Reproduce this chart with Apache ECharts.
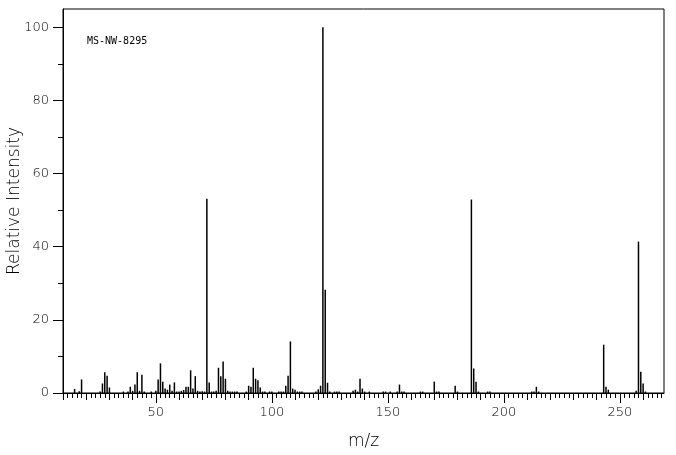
<!DOCTYPE html>
<html>
<head>
<meta charset="utf-8">
<script src="https://cdn.jsdelivr.net/npm/echarts@6/dist/echarts.min.js"></script>
<style>
  html, body { margin: 0; padding: 0; background: #fff; }
  #chart { width: 676px; height: 455px; }
</style>
</head>
<body>
<div id="chart"></div>
<script>
  // peak positions (m/z) and relative intensities (%)
  const mz = [15, 17, 18, 26, 27, 28, 29, 30, 36, 38, 39, 40, 41, 42, 43, 44, 45, 48, 50, 51,
    52, 53, 54, 55, 56, 57, 58, 59, 60, 61, 62, 63, 64, 65, 66, 67, 68, 69, 70, 71,
    72, 73, 74, 75, 76, 77, 78, 79, 80, 81, 82, 83, 84, 85, 89, 90, 91, 92, 93, 94,
    95, 96, 97, 99, 100, 103, 104, 105, 106, 107, 108, 109, 110, 111, 112, 113, 119, 120, 121, 122,
    123, 124, 125, 127, 128, 129, 135, 136, 137, 138, 139, 140, 142, 148, 149, 151, 154, 155, 156, 157,
    164, 165, 170, 171, 172, 179, 180, 186, 187, 188, 189, 193, 194, 212, 213, 214, 215, 243, 244, 245,
    257, 258, 259, 260, 261];
  const intensity = [1.1, 0.5, 3.7, 0.4, 2.6, 5.7, 4.7, 1.5, 0.4, 0.4, 1.7, 0.6, 2.3, 5.7, 0.6, 5.0, 0.4, 0.4, 0.6, 3.7,
    8.1, 3.1, 1.2, 0.9, 2.3, 0.6, 2.9, 0.4, 0.4, 0.6, 0.8, 1.7, 1.7, 6.2, 1.2, 4.6, 0.6, 0.4, 0.5, 0.4,
    53.1, 2.9, 0.4, 0.4, 0.6, 6.9, 4.6, 8.6, 3.9, 0.6, 0.4, 0.4, 0.4, 0.4, 0.4, 2.0, 1.7, 6.9, 3.9, 3.5,
    1.5, 0.4, 0.4, 0.4, 0.4, 0.4, 0.4, 0.4, 2.0, 4.7, 14.1, 1.2, 0.9, 0.4, 0.4, 0.4, 0.4, 1.0, 2.0, 100,
    28.2, 2.8, 0.4, 0.4, 0.4, 0.4, 0.6, 0.9, 0.4, 3.9, 1.2, 0.4, 0.4, 0.4, 0.4, 0.4, 0.4, 2.3, 0.4, 0.4,
    0.4, 0.4, 3.1, 0.4, 0.4, 2.0, 0.4, 52.9, 6.7, 3.1, 0.4, 0.4, 0.4, 0.4, 0.4, 1.7, 0.4, 13.2, 1.7, 0.9,
    0.6, 41.4, 5.8, 2.6, 0.4];

  const xLabels = [50, 100, 150, 200, 250];
  const yLabels = [0, 20, 40, 60, 80, 100];
  const yMinorTicks = [10, 30, 50, 70, 90];
  const xMin = 10, xMax = 269;

  const xMidTicks = [];
  for (let v = 10; v <= 260; v += 10) xMidTicks.push(v);
  const xSmallTicks = [];
  for (let v = 10; v <= 268; v += 2) xSmallTicks.push(v);

  const font = 'DejaVu Sans';
  const peaks = mz.map((m, i) => [m, intensity[i]]);

  const chart = echarts.init(document.getElementById('chart'), null, { renderer: 'canvas' });

  const baseX = {
    type: 'value', min: xMin, max: xMax, position: 'bottom',
    splitLine: { show: false },
    axisLine: { show: false },
    axisLabel: { show: false },
    axisTick: { show: false }
  };

  chart.setOption({
    animation: false,
    backgroundColor: '#fff',
    grid: {
      left: 63, right: 12, top: 9, bottom: 62,
      containLabel: false, outerBoundsMode: 'none',
      show: true, borderColor: '#000', borderWidth: 1
    },
    graphic: [{
      type: 'text', left: 87, top: 36,
      style: { text: 'MS-NW-8295', font: '10px "DejaVu Sans Mono"', fill: '#000' }
    }],
    xAxis: [
      Object.assign({}, baseX, {
        axisLine: { show: true, lineStyle: { color: '#000', width: 1 } },
        axisTick: { show: true, length: 10, customValues: xLabels, lineStyle: { color: '#000' } },
        axisLabel: {
          show: true, customValues: xLabels, margin: 13,
          fontFamily: font, fontWeight: 200, fontSize: 13, color: '#000'
        },
        name: 'm/z', nameLocation: 'middle', nameGap: 40, nameMoveOverlap: false,
        nameTextStyle: { fontFamily: font, fontWeight: 200, fontSize: 17, color: '#000' }
      }),
      Object.assign({}, baseX, {
        axisTick: { show: true, length: 7, customValues: xMidTicks, lineStyle: { color: '#000' } }
      }),
      Object.assign({}, baseX, {
        axisTick: { show: true, length: 5, customValues: xSmallTicks, lineStyle: { color: '#000' } }
      })
    ],
    yAxis: [
      {
        type: 'value', min: 0, max: 105,
        splitLine: { show: false },
        axisLine: { show: true, lineStyle: { color: '#000', width: 1 } },
        axisTick: { show: true, length: 10, customValues: yLabels, lineStyle: { color: '#000' } },
        axisLabel: {
          customValues: yLabels, margin: 14,
          fontFamily: font, fontWeight: 200, fontSize: 13, color: '#000'
        },
        name: 'Relative Intensity', nameLocation: 'middle', nameGap: 40, nameMoveOverlap: false,
        nameTextStyle: { fontFamily: font, fontWeight: 200, fontSize: 17, color: '#000' }
      },
      {
        type: 'value', min: 0, max: 105, position: 'left',
        splitLine: { show: false },
        axisLine: { show: false },
        axisLabel: { show: false },
        axisTick: { show: true, length: 5, customValues: yMinorTicks, lineStyle: { color: '#000' } }
      }
    ],
    series: [{
      type: 'bar',
      xAxisIndex: 0, yAxisIndex: 0,
      barWidth: 1.5,
      itemStyle: { color: '#000' },
      data: peaks
    }]
  });

  window.addEventListener('resize', () => {
    chart && chart.resize();
  });
</script>
</body>
</html>
